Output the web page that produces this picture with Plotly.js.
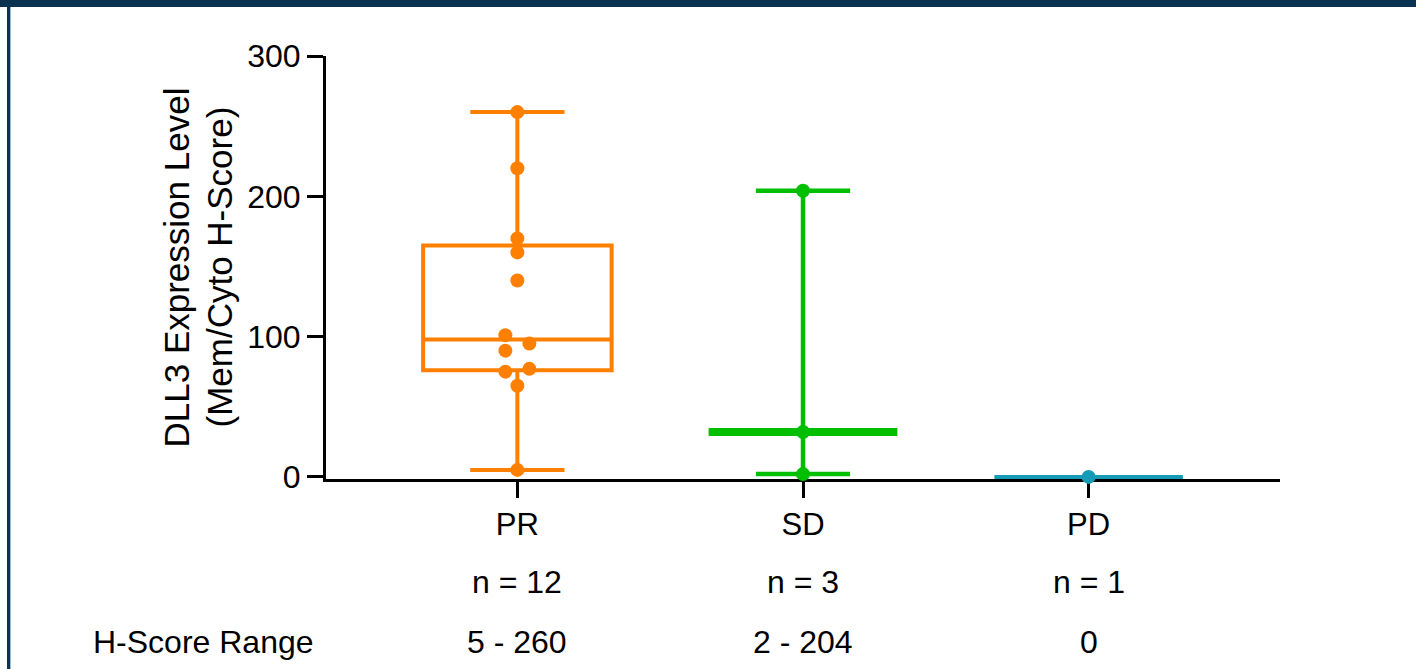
<!DOCTYPE html>
<html>
<head>
<meta charset="utf-8">
<script src="https://cdn.plot.ly/plotly-3.0.1.min.js"></script>
<style>
html,body{margin:0;padding:0;background:#ffffff;width:1416px;height:669px;overflow:hidden;}
#chart{position:absolute;left:0;top:0;width:1416px;height:669px;}
.frame-top{position:absolute;left:0;top:0;width:1416px;height:7px;background:#0a3352;pointer-events:none;}
.frame-left{position:absolute;left:7px;top:0;width:3px;height:669px;background:#0a3352;pointer-events:none;}
.frame-left-edge{position:absolute;left:10px;top:7px;width:1px;height:662px;background:#9dbbd0;pointer-events:none;}
</style>
</head>
<body>
<div id="chart"></div>
<div class="frame-top"></div>
<div class="frame-left"></div>
<div class="frame-left-edge"></div>
<script>
// ---- data ----
const categories = ['PR', 'SD', 'PD'];
const prValues = [260, 220, 170, 160, 140, 101, 95, 90, 77, 75, 65, 5];
const sdValues = [204, 32, 2];
const pdValues = [0];
const yTickVals = [0, 100, 200, 300];
const yTitleLines = ['DLL3 Expression Level', '(Mem/Cyto H-Score)'];
const rangeRowLabel = 'H-Score Range';

// ---- style ----
const colors = ['#ff8000', '#00bf00', '#159bb5'];
const FONT = 'Liberation Sans, Arial, Helvetica, sans-serif';
const W = 1416, H = 669;
const margin = {l: 326, r: 136, t: 56, b: 190};
const xRange = [-0.67, 2.67];
const yRange = [-1.5, 300];
const boxWidth = 0.66;
const markerSize = 14;
const swarmStepPx = 12;

const plotW = W - margin.l - margin.r;
const plotH = H - margin.t - margin.b;
const pxPerX = plotW / (xRange[1] - xRange[0]);
const pxPerY = plotH / (yRange[1] - yRange[0]);

function median(arr) {
  const s = arr.slice().sort((a, b) => a - b);
  const m = Math.floor(s.length / 2);
  return s.length % 2 ? s[m] : (s[m - 1] + s[m]) / 2;
}

// simple beeswarm: points closer than a marker diameter alternate left / right
function swarmX(center, vals) {
  const order = vals.map((v, i) => i).sort((a, b) => vals[a] - vals[b]);
  const xs = new Array(vals.length).fill(center);
  let cluster = [];
  const flush = () => {
    if (cluster.length > 1) {
      cluster.forEach((idx, k) => {
        xs[idx] = center + (k % 2 === 0 ? -1 : 1) * swarmStepPx / pxPerX;
      });
    }
    cluster = [];
  };
  order.forEach((idx, j) => {
    if (j > 0 && (vals[idx] - vals[order[j - 1]]) * pxPerY >= 13) flush();
    cluster.push(idx);
  });
  flush();
  return xs;
}

const groups = [prValues, sdValues, pdValues];
const traces = [];

// PR: full box
traces.push({
  type: 'box', y: prValues, x0: 0, width: boxWidth, boxpoints: false,
  quartilemethod: 'exclusive', whiskerwidth: 0.5,
  line: {color: colors[0], width: 4}, fillcolor: 'rgba(0,0,0,0)',
  hoverinfo: 'skip', showlegend: false
});

// SD: median with min-max whiskers
const sdMed = median(sdValues);
const sdMin = Math.min(...sdValues), sdMax = Math.max(...sdValues);
traces.push({
  type: 'box', x: [1], q1: [sdMed], median: [sdMed], q3: [sdMed],
  lowerfence: [sdMin], upperfence: [sdMax], width: boxWidth, whiskerwidth: 0.5,
  boxpoints: false, line: {color: colors[1], width: 4.5}, fillcolor: 'rgba(0,0,0,0)',
  hoverinfo: 'skip', showlegend: false
});
traces.push({
  type: 'box', x: [1], q1: [sdMed], median: [sdMed], q3: [sdMed],
  lowerfence: [sdMed], upperfence: [sdMed], width: boxWidth, whiskerwidth: 0.5,
  boxpoints: false, line: {color: colors[1], width: 8}, fillcolor: 'rgba(0,0,0,0)',
  hoverinfo: 'skip', showlegend: false
});

// PD: single value
traces.push({
  type: 'box', y: pdValues, x0: 2, width: boxWidth, boxpoints: false,
  line: {color: colors[2], width: 4}, fillcolor: 'rgba(0,0,0,0)',
  hoverinfo: 'skip', showlegend: false
});

// points
groups.forEach((vals, i) => {
  traces.push({
    type: 'scatter', mode: 'markers', x: swarmX(i, vals), y: vals,
    marker: {color: colors[i], size: markerSize, line: {width: 0}},
    cliponaxis: false, hoverinfo: 'skip', showlegend: false
  });
});

const annotations = [];
yTitleLines.forEach((t, i) => {
  annotations.push({
    xref: 'paper', yref: 'paper', x: 0, y: 0.5, xshift: [-150, -107][i],
    text: t, textangle: -90, showarrow: false, xanchor: 'center', yanchor: 'middle',
    font: {family: FONT, size: 35, color: '#000'}
  });
});
groups.forEach((vals, i) => {
  const mn = Math.min(...vals), mx = Math.max(...vals);
  annotations.push({
    xref: 'x', yref: 'paper', x: i, y: 0, yshift: -103, text: 'n = ' + vals.length,
    showarrow: false, xanchor: 'center', yanchor: 'middle',
    font: {family: FONT, size: 32, color: '#000'}
  });
  annotations.push({
    xref: 'x', yref: 'paper', x: i, y: 0, yshift: -163,
    text: mn === mx ? String(mn) : mn + ' - ' + mx,
    showarrow: false, xanchor: 'center', yanchor: 'middle',
    font: {family: FONT, size: 32, color: '#000'}
  });
});
annotations.push({
  xref: 'paper', yref: 'paper', x: 0, y: 0, xshift: -123, yshift: -163, text: rangeRowLabel,
  showarrow: false, xanchor: 'center', yanchor: 'middle',
  font: {family: FONT, size: 32, color: '#000'}
});

const layout = {
  width: W, height: H, margin: margin,
  paper_bgcolor: '#ffffff', plot_bgcolor: '#ffffff',
  showlegend: false, boxmode: 'overlay',
  font: {family: FONT, color: '#000'},
  xaxis: {
    range: xRange, tickmode: 'array', tickvals: categories.map((c, i) => i), ticktext: categories,
    showline: true, linecolor: '#000', linewidth: 3, ticks: 'outside', ticklen: 16, tickwidth: 3,
    tickcolor: '#000', showgrid: false, zeroline: false, layer: 'below traces',
    tickfont: {family: FONT, size: 31, color: '#000'}, fixedrange: true
  },
  yaxis: {
    range: yRange, tickmode: 'array', tickvals: yTickVals, ticktext: yTickVals.map(String),
    showline: true, linecolor: '#000', linewidth: 3, ticks: 'outside', ticklen: 16, tickwidth: 3,
    tickcolor: '#000', showgrid: false, zeroline: false, layer: 'below traces',
    tickfont: {family: FONT, size: 32, color: '#000'}, fixedrange: true
  },
  annotations: annotations
};

Plotly.newPlot('chart', traces, layout, {displayModeBar: false, staticPlot: true});
</script>
</body>
</html>
